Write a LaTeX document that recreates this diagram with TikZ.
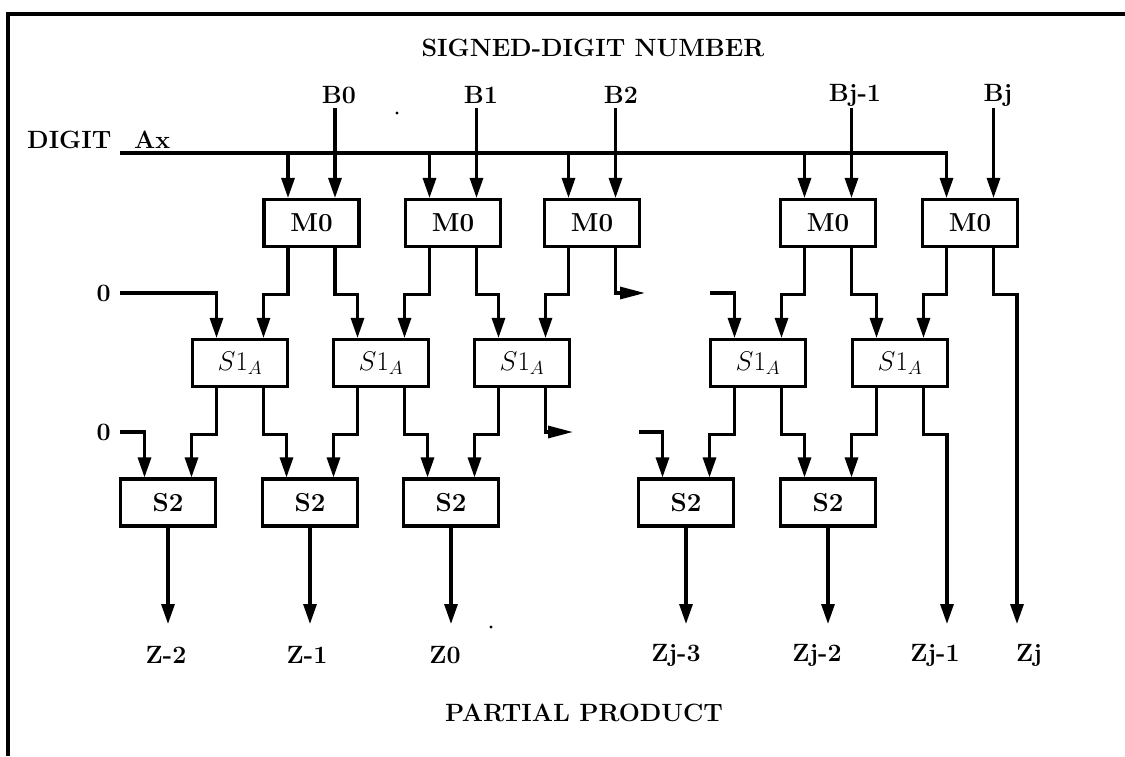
\RequirePackage{fix-cm}
\documentclass[tikz,border=0pt]{standalone}
\usetikzlibrary{arrows.meta}
\begin{document}
\begin{tikzpicture}[x=1pt,y=-1pt,
  wire/.style={line width=3.1pt},
  arr/.style={wire,-{Triangle[length=20pt,width=13pt]}},
  harr/.style={wire,-{Triangle[length=25pt,width=12pt]}},
  cell/.style={draw,line width=3.1pt,minimum width=95pt,minimum height=47pt,inner sep=0pt,
    font=\fontsize{26}{30}\selectfont\bfseries},
  lbl/.style={font=\fontsize{25}{29}\selectfont\bfseries,inner sep=0pt},
  txt/.style={font=\fontsize{25}{30}\selectfont\bfseries,inner sep=0pt}]
\useasboundingbox (0,0) rectangle (1125,756);
% frame
\draw[line width=3.2pt] (8,756) -- (8,14) -- (1125,14);
% titles
\node[txt] (title) at (593,48) {SIGNED-DIGIT NUMBER};
\node[txt] (bottom) at (584,713) {PARTIAL PRODUCT};
\node[lbl,anchor=base west] (digit) at (27,148) {DIGIT};
\node[lbl,anchor=base west] (ax) at (134,148) {Ax};
% cells
\foreach \n/\x in {1/311.5,2/453,3/592,4/828,5/970}
  \node[cell] (m\n) at (\x,223) {M0};
\foreach \n/\x in {1/240,2/381,3/522,4/758,5/900}
  \node[cell,font=\fontsize{27}{31}\selectfont] (s\n) at (\x,363) {$S1_A$};
\foreach \n/\x in {1/168,2/310,3/451,4/686,5/828}
  \node[cell] (t\n) at (\x,502.5) {S2};
% B inputs
\node[lbl] (b0) at (339,95) {B0};
\node[lbl] (b1) at (481,95) {B1};
\node[lbl] (b2) at (621,95) {B2};
\node[lbl] (b3) at (855,95) {Bj-1};
\node[lbl] (b4) at (998,95) {Bj};
\coordinate (btop) at (0,108);
\foreach \n in {1,...,5}
  \draw[arr] ([xshift=23.5pt]m\n.north |- btop) -- ([xshift=23.5pt]m\n.north);
% Ax line
\coordinate (axs) at (120,153);
\draw[arr] (axs) -| ([xshift=-23.5pt]m5.north);
\foreach \n in {1,...,4}
  \draw[arr] ([xshift=-23.5pt]m\n.north |- axs) -- ([xshift=-23.5pt]m\n.north);
% zero inputs
\node[lbl,anchor=east] (z1) at (111,293) {0};
\node[lbl,anchor=east] (z2) at (111,432) {0};
\draw[arr] ([xshift=9pt]z1.east) -| ([xshift=-23.5pt]s1.north);
\draw[arr] ([xshift=9pt]z2.east) -| ([xshift=-23.5pt]t1.north);
% M0 -> S1
\draw[arr] ([xshift=-23.5pt]m1.south) -- ++(0,46) -| ([xshift=23.5pt]s1.north);
\draw[arr] ([xshift=23.5pt]m1.south) -- ++(0,46) -| ([xshift=-23.5pt]s2.north);
\draw[arr] ([xshift=-23.5pt]m2.south) -- ++(0,46) -| ([xshift=23.5pt]s2.north);
\draw[arr] ([xshift=23.5pt]m2.south) -- ++(0,46) -| ([xshift=-23.5pt]s3.north);
\draw[arr] ([xshift=-23.5pt]m3.south) -- ++(0,46) -| ([xshift=23.5pt]s3.north);
\coordinate (h1) at (645,293);
\draw[harr] ([xshift=23.5pt]m3.south) |- (h1);
\coordinate (st1) at (710,293);
\draw[arr] (st1) -| ([xshift=-23.5pt]s4.north);
\draw[arr] ([xshift=-23.5pt]m4.south) -- ++(0,46) -| ([xshift=23.5pt]s4.north);
\draw[arr] ([xshift=23.5pt]m4.south) -- ++(0,46) -| ([xshift=-23.5pt]s5.north);
\draw[arr] ([xshift=-23.5pt]m5.south) -- ++(0,46) -| ([xshift=23.5pt]s5.north);
% S1 -> S2
\draw[arr] ([xshift=-23.5pt]s1.south) -- ++(0,46) -| ([xshift=23.5pt]t1.north);
\draw[arr] ([xshift=23.5pt]s1.south) -- ++(0,46) -| ([xshift=-23.5pt]t2.north);
\draw[arr] ([xshift=-23.5pt]s2.south) -- ++(0,46) -| ([xshift=23.5pt]t2.north);
\draw[arr] ([xshift=23.5pt]s2.south) -- ++(0,46) -| ([xshift=-23.5pt]t3.north);
\draw[arr] ([xshift=-23.5pt]s3.south) -- ++(0,46) -| ([xshift=23.5pt]t3.north);
\coordinate (h2) at (573,432);
\draw[harr] ([xshift=23.5pt]s3.south) |- (h2);
\coordinate (st2) at (639,432);
\draw[arr] (st2) -| ([xshift=-23.5pt]t4.north);
\draw[arr] ([xshift=-23.5pt]s4.south) -- ++(0,46) -| ([xshift=23.5pt]t4.north);
\draw[arr] ([xshift=23.5pt]s4.south) -- ++(0,46) -| ([xshift=-23.5pt]t5.north);
\draw[arr] ([xshift=-23.5pt]s5.south) -- ++(0,46) -| ([xshift=23.5pt]t5.north);
% outputs
\node[lbl] (o1) at (166,655) {Z-2};
\node[lbl] (o2) at (307,655) {Z-1};
\node[lbl] (o3) at (445,655) {Z0};
\node[lbl] (o4) at (676,655) {Zj-3};
\node[lbl] (o5) at (817,655) {Zj-2};
\node[lbl] (o6) at (935,655) {Zj-1};
\node[lbl] (o7) at (1029,655) {Zj};
\coordinate (otip) at (0,624);
\foreach \n in {1,...,5}
  \draw[arr] (t\n.south) -- (t\n.south |- otip);
\coordinate (c6) at (947,624);
\coordinate (c7) at (1017,624);
\draw[arr] ([xshift=23.5pt]s5.south) -- ++(0,46) -| (c6);
\draw[arr] ([xshift=23.5pt]m5.south) -- ++(0,46) -| (c7);
% specks
\fill (397,113) circle (1.6pt);
\fill (491,627) circle (1.6pt);
\end{tikzpicture}
\end{document}
